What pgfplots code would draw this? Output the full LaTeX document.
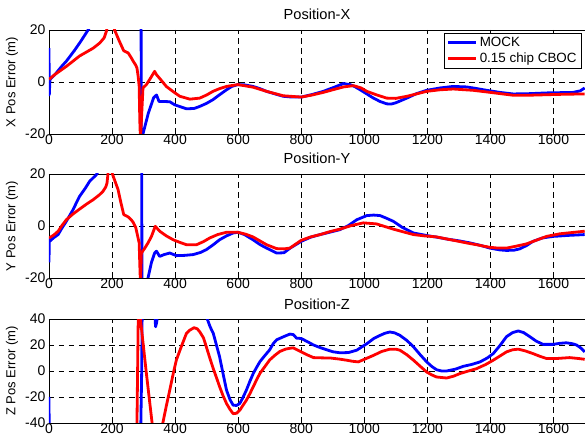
\documentclass[border=0pt]{standalone}
\usepackage{fontspec}
\setmainfont{Liberation Sans}
\usepackage{pgfplots}
\pgfplotsset{compat=1.18}
\definecolor{mblue}{rgb}{0,0,1}
\definecolor{mred}{rgb}{1,0,0}
\pgfplotsset{
  posplot/.style={
    scale only axis, width=536pt, height=104pt,
    xmin=0, xmax=1700, xtick={0,200,...,1600},
    grid=major,
    major grid style={black, line width=0.5pt, dash pattern=on 5.5pt off 4.5pt},
    axis line style={line width=0.8pt},
    tick align=inside, major tick length=4pt, tick style={black, line width=0.6pt},
    ticklabel style={font=\fontsize{14}{16}\selectfont},
    /pgf/number format/assume math mode=true,
    /pgf/number format/1000 sep={},
    xticklabel style={inner sep=1pt},
    ylabel style={font=\fontsize{13}{15}\selectfont, at={(axis description cs:-0.069,0.5)}, anchor=center},
    every axis title shift=0pt,
    title style={font=\fontsize{14.6}{16}\selectfont, at={(axis description cs:0.5,1)}, anchor=base, inner sep=0pt, yshift=10pt},
    every axis plot/.append style={line width=2.8pt, line join=round},
  },
  blueline/.style={mblue},
  redline/.style={mred},
}
\begin{document}
\begin{tikzpicture}
\path[use as bounding box] (0,0) rectangle (585pt,443pt);

% ---------------- Position-X
\begin{axis}[posplot, at={(49pt,309pt)}, anchor=south west,
  title={Position-X}, ylabel={X Pos Error (m)},
  ymin=-20, ymax=20, ytick={-20,0,20},
  legend style={at={(1,1)}, anchor=north east, xshift=-3pt, yshift=-3pt,
    draw=black, line width=0.8pt, fill=white, font=\fontsize{13.4}{15}\selectfont,
    inner xsep=3pt, inner ysep=2pt, row sep=1pt, cells={anchor=west}},
  legend image code/.code={\draw[#1] (0pt,0pt) -- (28pt,0pt);},
]
\addplot[blueline] coordinates {
(0,13) (1,-5) (3,1) (20,3) (40,6) (55,8) (80,12) (100,15.5) (124,20) (140,23) (200,30) (280,30) (292,25) (293,-25) (296,-22) (298,-20) (315,-12) (332,-6) (341,-5) (349,-7.5) (365,-7.5) (383,-7.6) (399,-8.8) (436,-10.3) (460,-10.2) (478,-9.4) (500,-8.2) (520,-6.8) (540,-5) (563,-3) (580,-1.7) (599,-1) (620,-1.1) (647,-1.7) (670,-2.6) (690,-3.6) (720,-4.7) (743,-5.5) (770,-5.8) (800,-5.8) (835,-4.8) (870,-3.6) (905,-2) (934,-0.6) (955,-1) (970,-1.8) (987,-3) (1008,-4.6) (1029,-6.2) (1050,-7.5) (1071,-8.4) (1085,-8.5) (1100,-8) (1135,-6.2) (1165,-4.5) (1198,-3.2) (1240,-2.3) (1282,-1.7) (1325,-1.9) (1355,-2.5) (1388,-3.2) (1430,-4) (1472,-4.6) (1520,-4.5) (1578,-4.2) (1620,-4.1) (1662,-4) (1685,-3.4) (1699,-2.3)
};
\addlegendentry{MOCK}
\addplot[redline] coordinates {
(0,1) (20,3) (55,6) (97,10) (140,13) (161,15) (175,17) (182,19.5) (186,22) (200,25) (208,20) (222,16) (237,12) (251,11.2) (260,9.5) (267,8) (275,6.5) (279,5.4) (283,2) (286,-1.7) (288,-15) (290,-22) (293,-15) (298,-2.3) (309,-1) (322,1.5) (335,4.1) (341,2.8) (355,0.8) (372,-1.7) (395,-3.8) (415,-5.5) (447,-6.6) (478,-6.2) (500,-5) (520,-3.6) (540,-2.6) (563,-1.7) (599,-1) (647,-2) (690,-3.6) (743,-5.3) (800,-5.8) (835,-5) (870,-4) (900,-3) (934,-1.9) (966,-1.4) (990,-2.3) (1008,-3.6) (1040,-5) (1071,-6.2) (1100,-6.3) (1135,-5.5) (1165,-4.6) (1198,-3.6) (1240,-3) (1282,-2.7) (1345,-3.2) (1400,-4) (1472,-5.1) (1520,-5.1) (1578,-4.9) (1640,-4.7) (1699,-4.6)
};
\addlegendentry{0.15 chip CBOC}
\end{axis}

% ---------------- Position-Y
\begin{axis}[posplot, at={(49pt,165pt)}, anchor=south west,
  title={Position-Y}, ylabel={Y Pos Error (m)},
  ymin=-20, ymax=20, ytick={-20,0,20},
]
\addplot[blueline] coordinates {
(0,-14) (1,-5) (2,-5.9) (15,-4.5) (29,-3.3) (40,-1) (55,1.8) (75,6) (97,11.4) (115,14.5) (129,17.2) (150,19.7) (160,22) (200,30) (290,30) (294,25) (295,-25) (310,-24) (314,-20) (325,-14) (335,-10.4) (341,-9.7) (351,-11.7) (365,-11) (383,-10.4) (404,-11.4) (430,-11.3) (457,-11) (480,-10.2) (499,-9.1) (520,-7.3) (541,-5.3) (563,-3.8) (584,-2.7) (599,-2.4) (620,-3.3) (647,-5.3) (670,-7.2) (690,-8.5) (722,-10.4) (745,-10.3) (765,-8.5) (800,-5.9) (830,-4.3) (860,-3.3) (890,-2.4) (923,-1.4) (950,0.2) (976,2.4) (1008,4) (1030,4.2) (1050,4) (1070,3) (1092,1.8) (1120,-0.5) (1156,-2.7) (1200,-3.7) (1230,-4.3) (1261,-5) (1300,-5.7) (1335,-6.5) (1370,-7.5) (1398,-8.5) (1430,-9.2) (1451,-9.4) (1475,-9.3) (1493,-8.8) (1515,-7.5) (1535,-5.9) (1565,-4.6) (1599,-4) (1650,-3.6) (1699,-3.3)
};
\addplot[redline] coordinates {
(0,-4.6) (15,-3.5) (29,-2) (40,0) (55,2.4) (75,4.5) (97,6.5) (120,8.5) (140,10.1) (160,12) (171,13.3) (180,15) (184,16.5) (187,20) (190,24) (198,24) (201,20) (210,17) (219,14) (228,9) (237,4.4) (251,3.5) (260,2.5) (267,1.4) (275,-0.5) (279,-2.7) (286,-6.5) (288,-15) (290,-22) (292,-15) (293,-10.4) (304,-8.5) (315,-6.3) (325,-4) (337,-0.1) (351,-2) (372,-3.8) (394,-5.3) (415,-6.3) (436,-7.2) (468,-7.2) (490,-6) (510,-4.6) (535,-3.3) (563,-2.4) (599,-2.4) (625,-3.2) (647,-4.2) (670,-5.8) (690,-7.2) (722,-8.7) (745,-8.8) (764,-8.5) (800,-5.5) (830,-4.2) (860,-3.3) (890,-2.2) (923,-1.2) (960,0.2) (997,1.2) (1039,0.8) (1065,-0.2) (1092,-1.2) (1125,-2.3) (1156,-3.3) (1190,-3.8) (1229,-4.2) (1270,-5.2) (1324,-6.5) (1360,-7.3) (1398,-8.2) (1425,-8.5) (1451,-8.5) (1480,-7.8) (1514,-6.9) (1545,-5.5) (1578,-4) (1620,-3) (1660,-2.5) (1699,-2)
};
\end{axis}

% ---------------- Position-Z
\begin{axis}[posplot, at={(49pt,20pt)}, anchor=south west,
  title={Position-Z}, ylabel={Z Pos Error (m)},
  ymin=-40, ymax=40, ytick={-40,-20,0,20,40},
]
\addplot[blueline] coordinates {
(0,-20) (1,-60) (290,-60) (294,0) (296,60) (332,60) (338,34) (342,38) (346,60) (495,60) (502,40) (511,34) (521,29) (531,20) (541,11) (552,-2) (563,-14.7) (574,-22) (584,-26.3) (595,-26.5) (605,-25) (615,-20.5) (626,-14.7) (637,-8) (648,-1.8) (659,3) (669,7.2) (685,12) (700,16.3) (711,21) (722,24) (745,26.5) (764,28.4) (775,28) (785,25.3) (800,25) (820,22.5) (839,20) (860,18) (881,16.3) (900,14.8) (923,14) (950,14.2) (976,16) (992,18.5) (1008,21) (1030,25) (1050,27.4) (1065,29) (1081,30) (1097,29.3) (1113,27.4) (1135,23.5) (1156,18.6) (1177,12.6) (1198,7) (1214,3.5) (1229,1) (1245,0) (1261,0) (1290,1.5) (1314,3.6) (1340,5) (1367,7) (1390,10) (1409,13.4) (1430,19.5) (1451,26.4) (1470,29.5) (1488,30.8) (1505,29.6) (1525,26.4) (1545,23) (1567,20.5) (1599,20.5) (1620,21.3) (1641,21.7) (1660,21) (1673,20) (1688,17.5) (1699,14.7)
};
\addplot[redline] coordinates {
(0,-60) (278,-60) (281,0) (284,60) (287,60) (290,40) (308,0) (327,-40) (332,-60) (355,-60) (361,-40) (372,-27) (383,-14.7) (394,-2) (404,8.5) (420,19) (436,29) (447,31.5) (460,33.3) (470,32.5) (478,30.2) (490,25.5) (499,18.6) (510,10) (521,1.8) (531,-5) (541,-12) (552,-19) (563,-25) (574,-29.5) (584,-32.8) (595,-32.5) (605,-30.2) (615,-26.5) (626,-22.5) (637,-17.5) (648,-12) (659,-6.5) (669,-1.8) (685,3.5) (700,8.5) (716,12) (732,15) (750,16.8) (764,17.5) (775,17.8) (800,14.7) (820,12.3) (839,10.3) (865,10.1) (892,10) (920,9.2) (944,8.3) (962,7.5) (981,7) (1005,9.5) (1029,12) (1055,15) (1081,16.8) (1100,16.8) (1113,16) (1135,12.5) (1156,8.3) (1177,3.7) (1198,-0.8) (1214,-3) (1229,-4.6) (1261,-5.4) (1283,-4) (1303,-2) (1330,0) (1356,1.8) (1385,5) (1409,8.3) (1430,11.5) (1451,14.7) (1470,16.3) (1488,16.8) (1510,15.5) (1535,13.4) (1556,11.4) (1578,9.6) (1609,9.6) (1651,10.3) (1680,9.6) (1699,9)
};
\end{axis}
\end{tikzpicture}
\end{document}
